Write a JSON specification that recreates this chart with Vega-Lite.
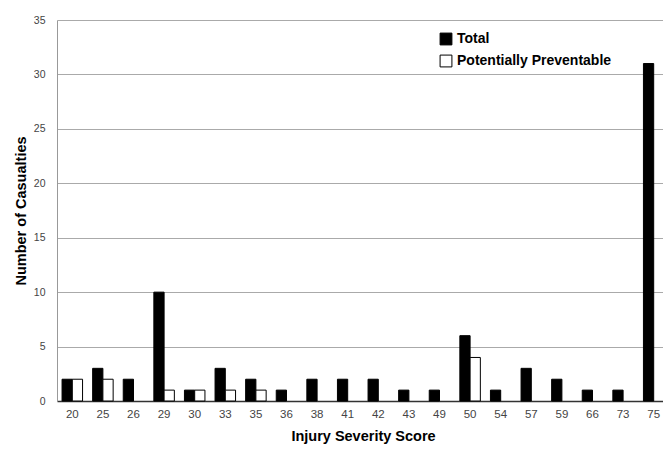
{
  "$schema": "https://vega.github.io/schema/vega-lite/v6.json",
  "autosize": {"type": "none"},
  "width": 612,
  "height": 381,
  "padding": {"left": 57, "top": 20, "right": 0, "bottom": 59},
  "background": "white",
  "data": {
    "values": [
      {"iss": "20", "series": "Total", "n": 2},
      {"iss": "20", "series": "Potentially Preventable", "n": 2},
      {"iss": "25", "series": "Total", "n": 3},
      {"iss": "25", "series": "Potentially Preventable", "n": 2},
      {"iss": "26", "series": "Total", "n": 2},
      {"iss": "29", "series": "Total", "n": 10},
      {"iss": "29", "series": "Potentially Preventable", "n": 1},
      {"iss": "30", "series": "Total", "n": 1},
      {"iss": "30", "series": "Potentially Preventable", "n": 1},
      {"iss": "33", "series": "Total", "n": 3},
      {"iss": "33", "series": "Potentially Preventable", "n": 1},
      {"iss": "35", "series": "Total", "n": 2},
      {"iss": "35", "series": "Potentially Preventable", "n": 1},
      {"iss": "36", "series": "Total", "n": 1},
      {"iss": "38", "series": "Total", "n": 2},
      {"iss": "41", "series": "Total", "n": 2},
      {"iss": "42", "series": "Total", "n": 2},
      {"iss": "43", "series": "Total", "n": 1},
      {"iss": "49", "series": "Total", "n": 1},
      {"iss": "50", "series": "Total", "n": 6},
      {"iss": "50", "series": "Potentially Preventable", "n": 4},
      {"iss": "54", "series": "Total", "n": 1},
      {"iss": "57", "series": "Total", "n": 3},
      {"iss": "59", "series": "Total", "n": 2},
      {"iss": "66", "series": "Total", "n": 1},
      {"iss": "73", "series": "Total", "n": 1},
      {"iss": "75", "series": "Total", "n": 31}
    ]
  },
  "mark": {"type": "bar", "stroke": "black", "strokeWidth": 1},
  "encoding": {
    "x": {
      "field": "iss",
      "type": "nominal",
      "sort": null,
      "scale": {"paddingInner": 0.33, "paddingOuter": 0.165},
      "axis": {
        "title": "Injury Severity Score",
        "labelAngle": 0,
        "ticks": false,
        "labelPadding": 7,
        "labelFontSize": 11.5,
        "labelColor": "#444",
        "labelFont": "Liberation Sans",
        "titleFont": "Liberation Sans",
        "titleFontSize": 14.5,
        "titleFontWeight": "bold",
        "titleColor": "black",
        "titlePadding": 10,
        "domainColor": "#333",
        "domainWidth": 1.5
      }
    },
    "xOffset": {
      "field": "series",
      "type": "nominal",
      "scale": {"domain": ["Total", "Potentially Preventable"]}
    },
    "y": {
      "field": "n",
      "type": "quantitative",
      "scale": {"domain": [0, 35], "nice": false},
      "axis": {
        "title": "Number of Casualties",
        "values": [0, 5, 10, 15, 20, 25, 30, 35],
        "ticks": false,
        "labelPadding": 12,
        "labelFontSize": 10.5,
        "labelColor": "#444",
        "labelFont": "Liberation Sans",
        "titleFont": "Liberation Sans",
        "titleFontSize": 14.5,
        "titleFontWeight": "bold",
        "titleColor": "black",
        "titlePadding": 5,
        "grid": true,
        "gridColor": "#aaa",
        "gridWidth": 1,
        "domainColor": "#999"
      }
    },
    "color": {
      "field": "series",
      "type": "nominal",
      "scale": {"domain": ["Total", "Potentially Preventable"], "range": ["black", "white"]},
      "legend": {
        "title": null,
        "orient": "none",
        "legendX": 382,
        "legendY": 12,
        "symbolType": "square",
        "symbolSize": 140,
        "symbolStrokeColor": "black",
        "symbolStrokeWidth": 1,
        "labelFont": "Liberation Sans",
        "labelFontSize": 14,
        "labelFontWeight": "bold",
        "labelColor": "black",
        "rowPadding": 6
      }
    }
  },
  "config": {
    "view": {"stroke": null}
  }
}
